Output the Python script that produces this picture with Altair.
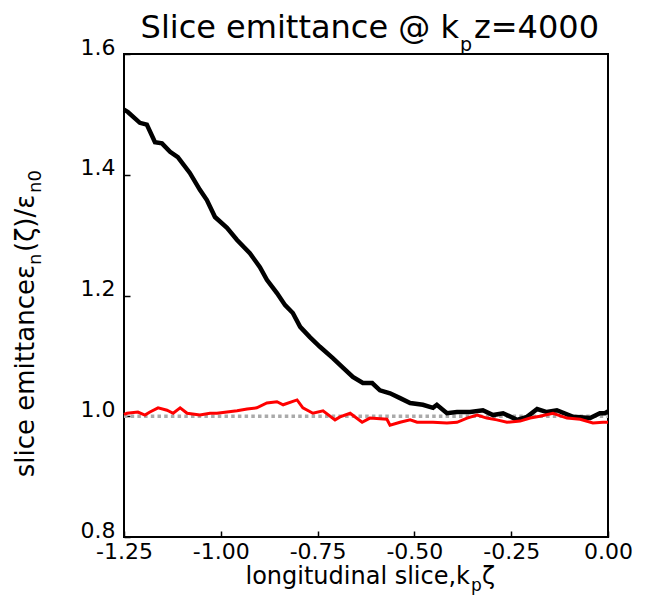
import altair as alt
import pandas as pd

# ---- data ----
x_black = [-1.250, -1.240, -1.209, -1.191, -1.170, -1.152, -1.131, -1.111, -1.080, -1.054,
           -1.036, -1.015, -0.984, -0.958, -0.925, -0.899, -0.881, -0.855, -0.834, -0.814,
           -0.795, -0.770, -0.744, -0.710, -0.684, -0.659, -0.633, -0.609, -0.589, -0.563,
           -0.537, -0.511, -0.478, -0.452, -0.442, -0.416, -0.390, -0.356, -0.323, -0.297,
           -0.271, -0.235, -0.209, -0.183, -0.158, -0.132, -0.090, -0.046, -0.021, -0.008, 0.000]
y_black = [1.508, 1.504, 1.486, 1.483, 1.454, 1.452, 1.438, 1.429, 1.403, 1.375,
           1.358, 1.330, 1.312, 1.292, 1.270, 1.247, 1.226, 1.204, 1.184, 1.171,
           1.148, 1.131, 1.115, 1.096, 1.080, 1.065, 1.055, 1.055, 1.043, 1.038,
           1.030, 1.022, 1.019, 1.014, 1.019, 1.005, 1.007, 1.007, 1.010, 1.002,
           1.005, 0.994, 0.999, 1.012, 1.007, 1.010, 0.999, 0.997, 1.005, 1.005, 1.008]

x_red = [-1.250, -1.242, -1.214, -1.196, -1.183, -1.162, -1.139, -1.123, -1.105, -1.087,
         -1.054, -1.028, -1.010, -0.984, -0.958, -0.932, -0.907, -0.881, -0.855, -0.839,
         -0.803, -0.788, -0.762, -0.736, -0.705, -0.692, -0.666, -0.635, -0.615, -0.571,
         -0.563, -0.537, -0.511, -0.493, -0.452, -0.416, -0.390, -0.364, -0.338, -0.313,
         -0.287, -0.261, -0.227, -0.201, -0.176, -0.142, -0.106, -0.072, -0.039, -0.013, 0.000]
y_red = [1.003, 1.005, 1.007, 1.002, 1.007, 1.014, 1.010, 1.005, 1.014, 1.005,
         1.002, 1.005, 1.005, 1.007, 1.009, 1.012, 1.014, 1.022, 1.024, 1.019,
         1.027, 1.014, 1.005, 1.009, 0.994, 0.999, 1.005, 0.990, 0.997, 0.995,
         0.985, 0.990, 0.994, 0.990, 0.990, 0.989, 0.990, 0.997, 1.002, 0.997,
         0.994, 0.990, 0.992, 0.997, 1.000, 1.005, 0.997, 0.995, 0.989, 0.990, 0.990]

ref_x = [-1.25, 0.0]
ref_y = [1.0, 1.0]

x_ticks = [-1.25, -1.0, -0.75, -0.5, -0.25, 0.0]
y_ticks = [0.8, 1.0, 1.2, 1.4, 1.6]

title_main, title_sub, title_tail = "Slice emittance @ k", "p", "z=4000"
xt_main, xt_sub, xt_tail = "longitudinal slice,k", "p", "ζ"
yt_main, yt_sub1, yt_mid, yt_sub2 = "slice emittanceε", "n", "(ζ)/ε", "n0"

W, H = 484, 483
FONT = "DejaVu Sans"

xscale = alt.Scale(domain=[-1.25, 0.0], nice=False, zero=False)
yscale = alt.Scale(domain=[0.8, 1.6], nice=False, zero=False)

xaxis = alt.Axis(values=x_ticks, labelExpr="replace(format(datum.value, '.2f'), '\u2212', '-')",
                 title="", grid=False, domain=False, offset=-6, tickSize=6, tickWidth=1.5,
                 tickColor="black", labelFont=FONT, labelFontSize=22, labelColor="black",
                 labelPadding=4, labelFlush=False, labelOverlap=False)
yaxis = alt.Axis(values=y_ticks, format=".1f", title="", grid=False, domain=False, offset=-6,
                 tickSize=6, tickWidth=1.5, tickColor="black", labelFont=FONT, labelFontSize=22,
                 labelColor="black", labelPadding=9, labelBaseline="alphabetic",
                 labelFlush=False, labelOverlap=False)

ref = alt.Chart(pd.DataFrame({"x": ref_x, "y": ref_y})).mark_line(
    color="#aaaaaa", strokeWidth=3.5, strokeDash=[3.5, 3.2]
).encode(x=alt.X("x:Q", scale=xscale, axis=xaxis), y=alt.Y("y:Q", scale=yscale, axis=yaxis))

black = alt.Chart(pd.DataFrame({"x": x_black, "y": y_black})).mark_line(
    color="black", strokeWidth=4.5
).encode(x=alt.X("x:Q", scale=xscale), y=alt.Y("y:Q", scale=yscale))

red = alt.Chart(pd.DataFrame({"x": x_red, "y": y_red})).mark_line(
    color="#ff0000", strokeWidth=3
).encode(x=alt.X("x:Q", scale=xscale), y=alt.Y("y:Q", scale=yscale))


def txt(s, x, y, size, align="left", angle=0):
    return alt.Chart(pd.DataFrame({"t": [s]})).mark_text(
        align=align, baseline="alphabetic", font=FONT, fontSize=size, color="black", angle=angle
    ).encode(x=alt.value(x), y=alt.value(y), text="t:N")


texts = [
    txt(title_main, 335, -16, 32, "right"),
    txt(title_sub, 336, -3, 19, "left"),
    txt(title_tail, 350, -16, 32, "left"),
    txt(xt_main, 346, 530, 24, "right"),
    txt(xt_sub, 347, 537, 17, "left"),
    txt(xt_tail, 358, 530, 24, "left"),
    txt(yt_main, -90, 211, 26, "right", 270),
    txt(yt_sub1, -83, 211, 18, "left", 270),
    txt(yt_mid, -90, 198, 26, "left", 270),
    txt(yt_sub2, -83, 139, 18, "left", 270),
]

chart = alt.layer(ref, black, red, *texts).properties(
    width=W, height=H,
    autosize=alt.AutoSizeParams(type="none"),
    padding={"left": 116, "top": 46, "right": 30, "bottom": 58},
).configure_view(stroke="black", strokeWidth=2)

chart.save("out.html", embed_options={"renderer": "svg", "actions": False})
